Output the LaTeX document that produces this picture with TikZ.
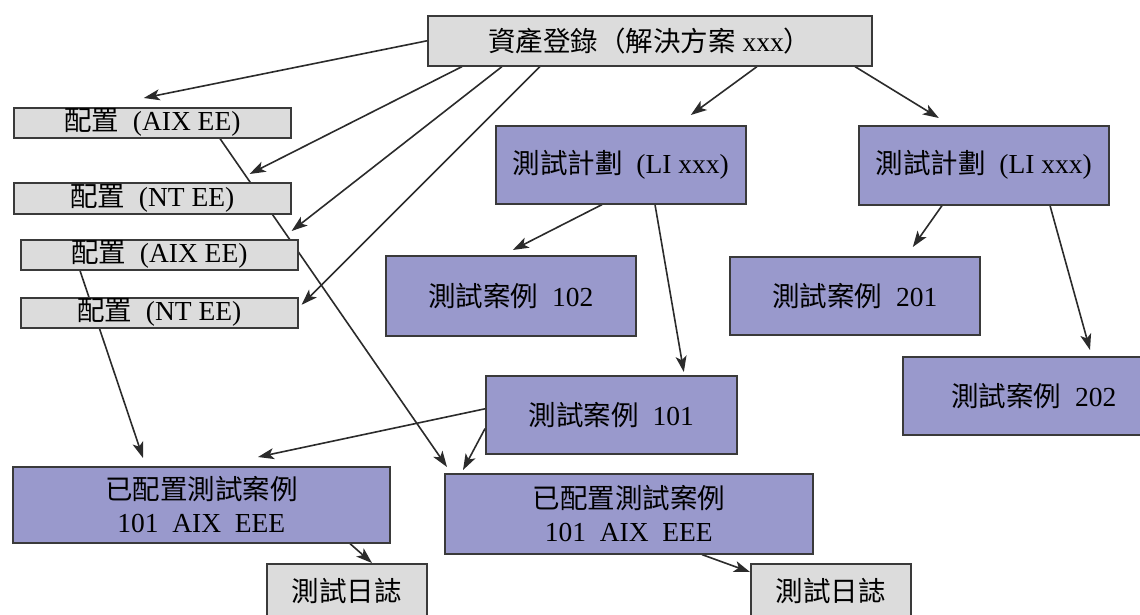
\documentclass[tikz,border=0pt]{standalone}
\usepackage{fontspec}
\setmainfont{Liberation Serif}
\newfontfamily\cjk{Noto Sans CJK TC}
\usetikzlibrary{arrows.meta,calc}
\pgfdeclarelayer{background}
\pgfdeclarelayer{canvas}
\pgfsetlayers{canvas,background,main}
\definecolor{gfill}{HTML}{DCDCDC}
\definecolor{pfill}{HTML}{9999CC}
\definecolor{edgec}{HTML}{3A3A3A}
\definecolor{wire}{HTML}{2B2B2B}
\begin{document}
\begin{tikzpicture}[x=1pt,y=-1pt,
  box/.style={draw=edgec, line width=1.6pt, inner sep=0pt, anchor=north west,
    font=\fontsize{27.5}{33}\selectfont, align=center},
  gbox/.style={box, fill=gfill},
  pbox/.style={box, fill=pfill},
  arr/.style={draw=wire, line width=1.6pt, -{Stealth[length=16pt,width=11pt,inset=4pt]}}]
\clip (0,0) rectangle (1140,614);
\begin{pgfonlayer}{canvas}
\fill[white] (0,0) rectangle (1140,614);
\end{pgfonlayer}

\node[gbox, minimum width=444pt, minimum height=50pt] (top) at (427,15)
  {{\cjk 資產登錄（解決方案}~xxx{\cjk ）}};
\node[gbox, minimum width=277pt, minimum height=30pt] (A1) at (13,107) {{\cjk 配置}~~(AIX EE)};
\node[gbox, minimum width=277pt, minimum height=31pt] (N1) at (13,182) {{\cjk 配置}~~(NT EE)};
\node[gbox, minimum width=277pt, minimum height=30pt] (A2) at (20,239) {{\cjk 配置}~~(AIX EE)};
\node[gbox, minimum width=277pt, minimum height=30pt] (N2) at (20,297) {{\cjk 配置}~~(NT EE)};

\node[pbox, minimum width=250pt, minimum height=78pt] (TP1) at (495,125) {{\cjk 測試計劃}~~(LI xxx)};
\node[pbox, minimum width=250pt, minimum height=79pt] (TP2) at (858,125) {{\cjk 測試計劃}~~(LI xxx)};
\node[pbox, minimum width=250pt, minimum height=80pt] (TC102) at (385,255) {{\cjk 測試案例}~~102};
\node[pbox, minimum width=250pt, minimum height=78pt] (TC201) at (729,256) {{\cjk 測試案例}~~201};
\node[pbox, minimum width=262pt, minimum height=78pt] (TC202) at (902,356) {{\cjk 測試案例}~~202};
\node[pbox, minimum width=251pt, minimum height=78pt] (TC101) at (485,375) {{\cjk 測試案例}~~101};
\node[pbox, minimum width=377pt, minimum height=76pt] (C1) at (12,466) {{\cjk 已配置測試案例}\\101~~AIX~~EEE};
\node[pbox, minimum width=368pt, minimum height=80pt] (C2) at (444,473) {{\cjk 已配置測試案例}\\101~~AIX~~EEE};
\node[gbox, minimum width=160pt, minimum height=54pt] (L1) at (266,563) {{\cjk 測試日誌}};
\node[gbox, minimum width=160pt, minimum height=54pt] (L2) at (750,563) {{\cjk 測試日誌}};

\begin{pgfonlayer}{background}
\draw[arr] (top.west) -- ($(A1.north)+(-8.5,-9)$);
\draw[arr] ($(top.south west)+(35,0)$) -- ($(N1.north east)+(-42,-8)$);
\draw[arr] ($(top.south west)+(75,0)$) -- ($(A2.north east)+(-7,-8)$);
\draw[arr] ($(top.south west)+(113,0)$) -- ($(N2.east)+(3,-8)$);
\draw[arr] ($(top.south west)+(330,0)$) -- ($(TP1.north)+(70,-10)$);
\draw[arr] ($(top.south west)+(428,0)$) -- ($(TP2.north)+(-45,-7)$);
\draw[arr] ($(TP1.south west)+(107,0)$) -- ($(TC102.north)+(2,-5)$);
\draw[arr] ($(TP1.south west)+(160,0)$) -- ($(TC101.north)+(72.5,-3)$);
\draw[arr] ($(TP2.south west)+(84,0)$) -- ($(TC201.north)+(58,-9)$);
\draw[arr] ($(TP2.south west)+(192,0)$) -- ($(TC202.north west)+(188,-6)$);
\draw[arr] ($(A1.south west)+(207,0)$) -- ($(C2.north west)+(3,-6)$);
\draw[arr] ($(A2.south west)+(60,0)$) -- ($(C1.north west)+(131,-8)$);
\draw[arr] ($(TC101.west)+(0,-6)$) -- ($(C1.north west)+(246,-9)$);
\draw[arr] ($(TC101.south west)+(0,-26)$) -- ($(C2.north west)+(19,-3)$);
\draw[arr] ($(C1.south west)+(338,0)$) -- ($(L1.north west)+(106,0)$);
\draw[arr] ($(C2.south west)+(258,0)$) -- ($(L2.north west)+(0,9)$);
\end{pgfonlayer}
\end{tikzpicture}
\end{document}
